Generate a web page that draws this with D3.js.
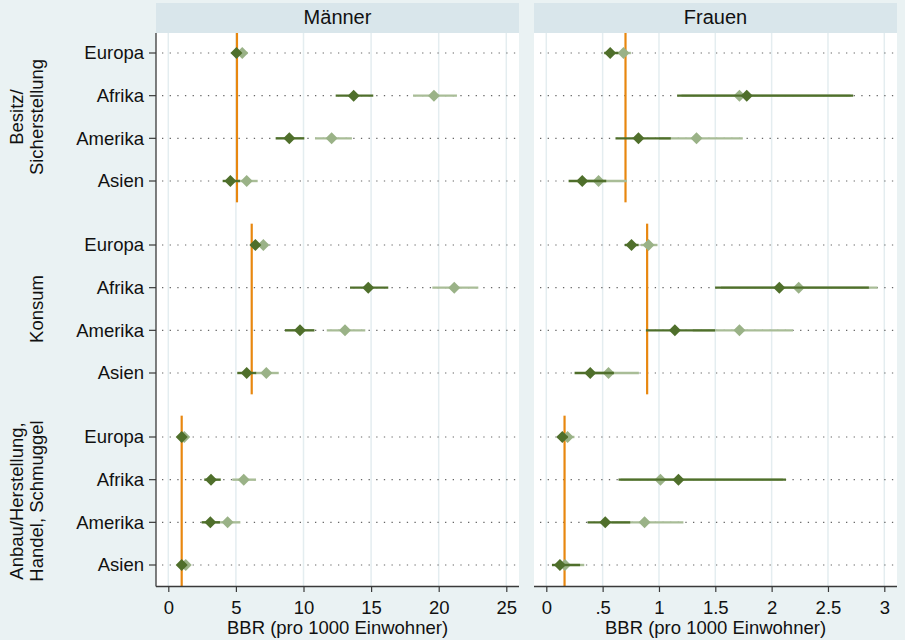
<!DOCTYPE html>
<html>
<head>
<meta charset="utf-8">
<script src="https://cdn.jsdelivr.net/npm/d3@7"></script>
<style>
  html, body { margin: 0; padding: 0; background: #eaf2f3; }
  svg { display: block; font-family: "Liberation Sans", Arial, Helvetica, sans-serif; }
</style>
</head>
<body>
<svg id="chart" width="905" height="640"></svg>
<script>
// ---------------- data ----------------
const regions = ["Europa", "Afrika", "Amerika", "Asien"];
const groups = [["Besitz/", "Sicherstellung"], ["Konsum"], ["Anbau/Herstellung,", "Handel, Schmuggel"]];
const panels = ["Männer", "Frauen"];

// Männer – dark series
const menDark   = [5.04, 13.71, 8.95, 4.59,  6.44, 14.79, 9.74, 5.80,  0.99, 3.16, 3.11, 0.99];
const menDarkLo = [4.75, 12.38, 7.94, 4.02,  6.15, 13.44, 8.63, 5.10,  0.85, 2.66, 2.47, 0.80];
const menDarkHi = [5.35, 15.16, 10.06, 5.30, 6.75, 16.27, 10.81, 6.50, 1.15, 3.88, 3.82, 1.20];
// Männer – light series
const menLight   = [5.47, 19.65, 12.08, 5.80,  7.03, 21.15, 13.07, 7.25,  1.18, 5.58, 4.39, 1.29];
const menLightLo = [5.15, 18.10, 10.85, 5.10,  6.70, 19.53, 11.72, 6.45,  0.98, 4.73, 3.55, 1.05];
const menLightHi = [5.85, 21.35, 13.58, 6.61,  7.40, 22.93, 14.57, 8.17,  1.40, 6.49, 5.33, 1.55];
// Frauen – dark series
const womDark   = [0.567, 1.779, 0.818, 0.319,  0.756, 2.068, 1.141, 0.390,  0.142, 1.173, 0.523, 0.121];
const womDarkLo = [0.514, 1.161, 0.614, 0.198,  0.697, 1.498, 0.884, 0.251,  0.100, 0.641, 0.366, 0.050];
const womDarkHi = [0.640, 2.724, 1.105, 0.532,  0.820, 2.863, 1.498, 0.600,  0.190, 2.128, 0.745, 0.300];
// Frauen – light series
const womLight   = [0.685, 1.714, 1.333, 0.464,  0.907, 2.240, 1.714, 0.552,  0.189, 1.013, 0.872, 0.166];
const womLightLo = [0.620, 1.200, 1.000, 0.330,  0.840, 1.550, 1.300, 0.400,  0.130, 0.660, 0.580, 0.080];
const womLightHi = [0.751, 2.700, 1.744, 0.715,  0.987, 2.940, 2.190, 0.822,  0.250, 2.100, 1.217, 0.337];

// reference (orange) lines per group
const menRef = [5.08, 6.17, 0.99];
const womRef = [0.703, 0.895, 0.162];

// axis ticks
const menTicks = [0, 5, 10, 15, 20, 25];
const womTicks = [0, 0.5, 1, 1.5, 2, 2.5, 3];
const womTickLabels = ["0", ".5", "1", "1.5", "2", "2.5", "3"];
const axisTitle = "BBR (pro 1000 Einwohner)";

// ---------------- layout ----------------
const svg = d3.select("#chart");
const C = {
  bg: "#eaf2f3", strip: "#d9e6eb", grid: "#e4edf0", axis: "#3a3a3a",
  dark: "#4f6f2b", light: "#9ab287", lightCI: "#a9bd97", orange: "#e8870f", dots: "#666"
};
const plotTop = 33, plotBottom = 586, stripTop = 3;
const panelDefs = [
  { name: panels[0], x0: 156, x1: 519, domain: [0, 25], ticks: menTicks, labels: menTicks.map(String),
    dark: menDark, darkLo: menDarkLo, darkHi: menDarkHi, light: menLight, lightLo: menLightLo, lightHi: menLightHi, ref: menRef },
  { name: panels[1], x0: 534, x1: 897, domain: [0, 3], ticks: womTicks, labels: womTickLabels,
    dark: womDark, darkLo: womDarkLo, darkHi: womDarkHi, light: womLight, lightLo: womLightLo, lightHi: womLightHi, ref: womRef }
];

// row positions: 4 regions per group, 1.5 row gap between groups
const rowPos = [];
const groupStart = [0, 4.5, 9];
groupStart.forEach(s => regions.forEach((r, i) => rowPos.push(s + i)));
const y = d3.scaleLinear().domain([0, 12]).range([53, 565]);

svg.append("rect").attr("width", 905).attr("height", 640).attr("fill", C.bg);

panelDefs.forEach((p, pi) => {
  const x = d3.scaleLinear().domain(p.domain).range([p.x0 + 12.3, p.x1 - 12.7]);
  const g = svg.append("g");

  // strip header
  g.append("rect").attr("x", p.x0).attr("y", stripTop).attr("width", p.x1 - p.x0).attr("height", plotTop - stripTop)
    .attr("fill", C.strip);
  g.append("text").attr("x", (p.x0 + p.x1) / 2).attr("y", 24).attr("text-anchor", "middle")
    .attr("font-size", 20).attr("fill", "#111").text(p.name);

  // plot area
  g.append("rect").attr("x", p.x0).attr("y", plotTop).attr("width", p.x1 - p.x0).attr("height", plotBottom - plotTop)
    .attr("fill", "#fff");

  // vertical grid
  g.selectAll(".grid").data(p.ticks).join("line")
    .attr("x1", d => x(d)).attr("x2", d => x(d)).attr("y1", plotTop).attr("y2", plotBottom)
    .attr("stroke", C.grid).attr("stroke-width", 1.5);

  // dotted row lines
  g.selectAll(".row").data(rowPos).join("line")
    .attr("x1", p.x0 + 6).attr("x2", p.x1).attr("y1", d => y(d)).attr("y2", d => y(d))
    .attr("stroke", C.dots).attr("stroke-width", 1.2).attr("stroke-dasharray", "1.3,6.35");

  // orange reference lines
  g.selectAll(".ref").data(p.ref).join("line")
    .attr("x1", d => x(d)).attr("x2", d => x(d))
    .attr("y1", (d, i) => Math.max(plotTop, y(groupStart[i] - 0.5)))
    .attr("y2", (d, i) => Math.min(plotBottom, y(groupStart[i] + 3.5)))
    .attr("stroke", C.orange).attr("stroke-width", 2.2);

  const diamond = (cx, cy, r) => `M${cx},${cy - r}L${cx + r},${cy}L${cx},${cy + r}L${cx - r},${cy}Z`;

  // light series
  g.selectAll(".lci").data(rowPos).join("line")
    .attr("x1", (d, i) => x(p.lightLo[i])).attr("x2", (d, i) => x(p.lightHi[i]))
    .attr("y1", d => y(d)).attr("y2", d => y(d))
    .attr("stroke", C.lightCI).attr("stroke-width", 2.4);
  g.selectAll(".lpt").data(rowPos).join("path")
    .attr("d", (d, i) => diamond(x(p.light[i]), y(d), 6)).attr("fill", C.light);

  // dark series
  g.selectAll(".dci").data(rowPos).join("line")
    .attr("x1", (d, i) => x(p.darkLo[i])).attr("x2", (d, i) => x(p.darkHi[i]))
    .attr("y1", d => y(d)).attr("y2", d => y(d))
    .attr("stroke", C.dark).attr("stroke-width", 2.4);
  g.selectAll(".dpt").data(rowPos).join("path")
    .attr("d", (d, i) => diamond(x(p.dark[i]), y(d), 6)).attr("fill", C.dark);

  // x axis
  const ax = g.append("g").attr("transform", `translate(0,${plotBottom})`)
    .call(d3.axisBottom(x).tickValues(p.ticks).tickFormat((d, i) => p.labels[i]).tickSize(6).tickSizeOuter(0));
  ax.select(".domain").attr("d", `M${p.x0},0.5H${p.x1}`).attr("stroke", C.axis).attr("stroke-width", 1.3);
  ax.selectAll(".tick line").attr("stroke", C.axis).attr("stroke-width", 1.2);
  ax.selectAll(".tick text").attr("font-size", 18.5).attr("fill", "#111").attr("dy", 0).attr("y", 27.5)
    .attr("font-family", "Liberation Sans, Arial, sans-serif");
  g.append("text").attr("x", (p.x0 + p.x1) / 2).attr("y", 634).attr("text-anchor", "middle")
    .attr("font-size", 18.5).attr("fill", "#111").text(axisTitle);

  // y axis on left panel only
  if (pi === 0) {
    const yAxisScale = d3.scalePoint();
    const ay = g.append("g").attr("transform", `translate(${p.x0},0)`);
    ay.append("line").attr("x1", 0).attr("x2", 0).attr("y1", plotTop).attr("y2", plotBottom + 0.5)
      .attr("stroke", C.axis).attr("stroke-width", 1.3);
    const ticks = ay.selectAll(".yt").data(rowPos).join("g").attr("transform", d => `translate(0,${y(d)})`);
    ticks.append("line").attr("x1", -7).attr("x2", 0).attr("stroke", C.axis).attr("stroke-width", 1.2);
    ticks.append("text").attr("x", -12).attr("dy", "0.35em").attr("text-anchor", "end")
      .attr("font-size", 18.5).attr("fill", "#111").text((d, i) => regions[i % 4]);
  }
});

// group labels (rotated)
groups.forEach((lines, gi) => {
  const cy = (y(groupStart[gi]) + y(groupStart[gi] + 3)) / 2;
  const xs = lines.length === 2 ? [23, 43] : [43];
  lines.forEach((t, li) => {
    svg.append("text").attr("transform", `translate(${xs[li]},${cy}) rotate(-90)`)
      .attr("text-anchor", "middle").attr("font-size", 18.5).attr("fill", "#111").text(t);
  });
});
</script>
</body>
</html>
